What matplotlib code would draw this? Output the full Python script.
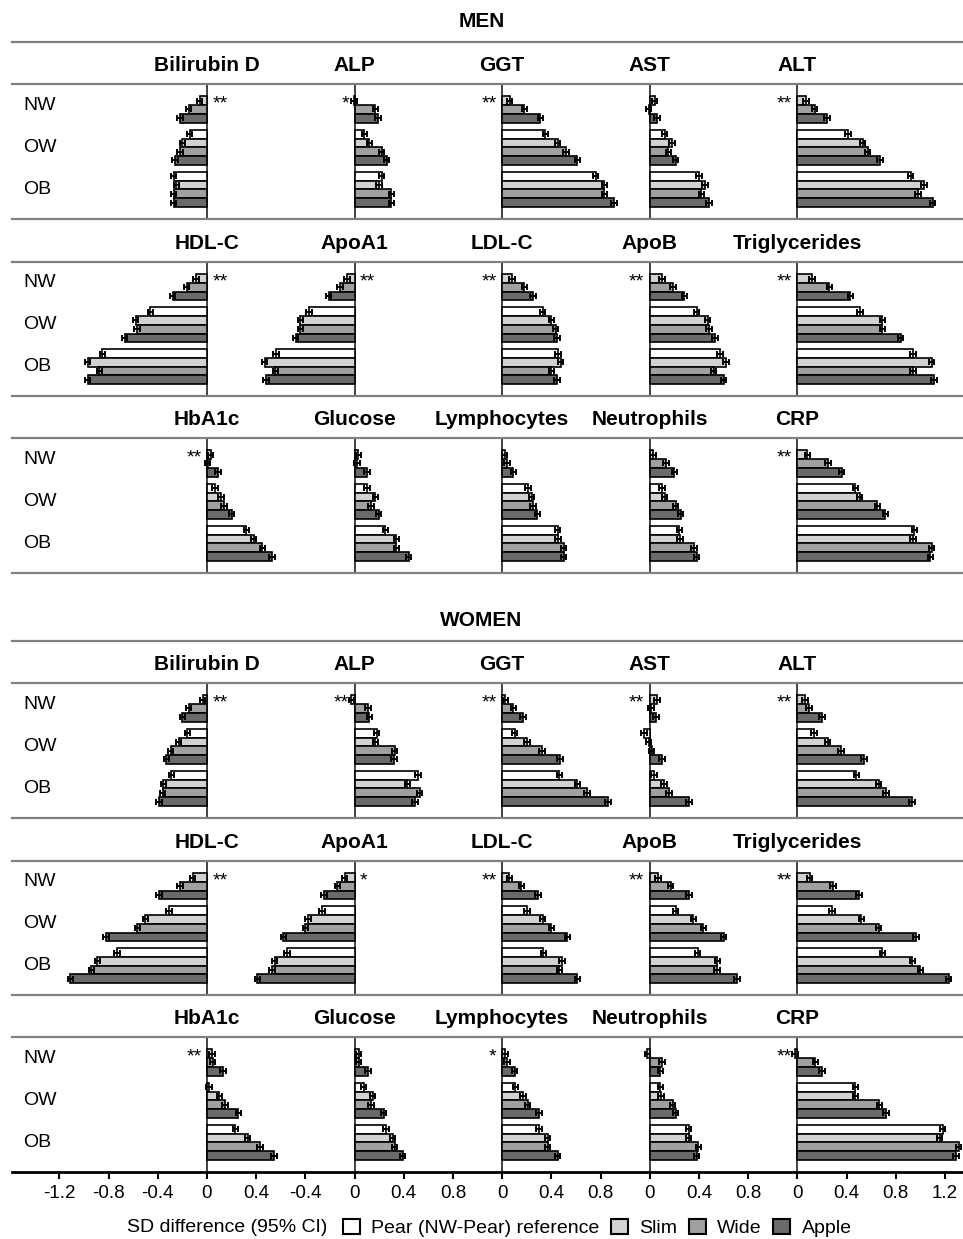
import numpy as np
import matplotlib
matplotlib.use('Agg')
import matplotlib.pyplot as plt
from matplotlib.patches import Patch
from matplotlib.lines import Line2D

markers = ['Bilirubin D', 'ALP', 'GGT', 'AST', 'ALT',
           'HDL-C', 'ApoA1', 'LDL-C', 'ApoB', 'Triglycerides',
           'HbA1c', 'Glucose', 'Lymphocytes', 'Neutrophils', 'CRP']
bmi_groups = ['NW', 'OW', 'OB']
shapes = ['Pear (NW-Pear) reference', 'Slim', 'Wide', 'Apple']
shape_colors = ['#ffffff', '#d2d2d2', '#a0a0a0', '#6a6a6a']

# SD difference vs NW-Pear; rows NW/OW/OB, columns Pear/Slim/Wide/Apple
# (None = the reference group itself)
men_bilirubin_d = [[None, -0.06, -0.15, -0.22], [-0.14, -0.20, -0.22, -0.26], [-0.27, -0.25, -0.27, -0.27]]
men_alp = [[None, -0.005, 0.17, 0.19], [0.08, 0.12, 0.22, 0.26], [0.22, 0.20, 0.30, 0.30]]
men_ggt = [[None, 0.06, 0.18, 0.31], [0.35, 0.45, 0.52, 0.61], [0.76, 0.83, 0.83, 0.91]]
men_ast = [[None, 0.04, -0.01, 0.06], [0.12, 0.18, 0.15, 0.21], [0.40, 0.45, 0.42, 0.48]]
men_alt = [[None, 0.07, 0.14, 0.24], [0.41, 0.53, 0.57, 0.67], [0.92, 1.03, 0.98, 1.10]]
men_hdl_c = [[None, -0.09, -0.165, -0.28], [-0.46, -0.58, -0.57, -0.67], [-0.85, -0.97, -0.875, -0.97]]
men_apoa1 = [[None, -0.06, -0.12, -0.21], [-0.37, -0.44, -0.44, -0.48], [-0.64, -0.73, -0.645, -0.72]]
men_ldl_c = [[None, 0.08, 0.18, 0.25], [0.33, 0.40, 0.435, 0.445], [0.455, 0.475, 0.40, 0.445]]
men_apob = [[None, 0.10, 0.19, 0.28], [0.38, 0.47, 0.48, 0.53], [0.57, 0.62, 0.52, 0.60]]
men_trig = [[None, 0.12, 0.26, 0.43], [0.51, 0.69, 0.69, 0.84], [0.94, 1.09, 0.94, 1.11]]
men_hba1c = [[None, 0.03, 0.005, 0.09], [0.065, 0.115, 0.14, 0.20], [0.32, 0.38, 0.45, 0.53]]
men_glucose = [[None, 0.03, 0.02, 0.10], [0.10, 0.17, 0.135, 0.195], [0.25, 0.34, 0.34, 0.44]]
men_lymph = [[None, 0.02, 0.04, 0.09], [0.21, 0.24, 0.25, 0.285], [0.45, 0.455, 0.50, 0.50]]
men_neutro = [[None, 0.025, 0.13, 0.20], [0.10, 0.12, 0.21, 0.25], [0.24, 0.245, 0.36, 0.38]]
men_crp = [[None, 0.08, 0.25, 0.36], [0.47, 0.505, 0.65, 0.715], [0.95, 0.94, 1.09, 1.08]]

women_bilirubin_d = [[None, -0.035, -0.15, -0.20], [-0.16, -0.23, -0.295, -0.33], [-0.29, -0.355, -0.36, -0.39]]
women_alp = [[None, -0.027, 0.11, 0.12], [0.18, 0.17, 0.325, 0.32], [0.515, 0.43, 0.53, 0.49]]
women_ggt = [[None, 0.025, 0.09, 0.17], [0.10, 0.20, 0.325, 0.47], [0.465, 0.61, 0.69, 0.86]]
women_ast = [[None, 0.057, 0.008, 0.05], [-0.046, -0.01, 0.016, 0.098], [0.035, 0.117, 0.157, 0.32]]
women_alt = [[None, 0.062, 0.095, 0.20], [0.135, 0.245, 0.355, 0.54], [0.48, 0.66, 0.72, 0.93]]
women_hdl_c = [[None, -0.117, -0.22, -0.39], [-0.31, -0.50, -0.565, -0.82], [-0.73, -0.89, -0.94, -1.11]]
women_apoa1 = [[None, -0.08, -0.14, -0.25], [-0.265, -0.38, -0.40, -0.58], [-0.55, -0.65, -0.67, -0.79]]
women_ldl_c = [[None, 0.057, 0.155, 0.29], [0.20, 0.33, 0.40, 0.53], [0.335, 0.485, 0.465, 0.61]]
women_apob = [[None, 0.065, 0.17, 0.32], [0.21, 0.355, 0.435, 0.60], [0.39, 0.55, 0.545, 0.71]]
women_trig = [[None, 0.10, 0.29, 0.50], [0.28, 0.52, 0.66, 0.965], [0.69, 0.935, 1.00, 1.23]]
women_hba1c = [[None, 0.04, 0.045, 0.13], [0.016, 0.10, 0.145, 0.255], [0.23, 0.33, 0.43, 0.545]]
women_glucose = [[None, 0.033, 0.033, 0.11], [0.073, 0.146, 0.133, 0.236], [0.255, 0.31, 0.325, 0.39]]
women_lymph = [[None, 0.024, 0.038, 0.10], [0.106, 0.168, 0.206, 0.30], [0.30, 0.37, 0.37, 0.45]]
women_neutro = [[None, -0.02, 0.10, 0.085], [0.085, 0.09, 0.185, 0.21], [0.315, 0.315, 0.395, 0.38]]
women_crp = [[None, -0.02, 0.145, 0.20], [0.47, 0.47, 0.665, 0.72], [1.18, 1.155, 1.31, 1.29]]

# half width of the 95% CI (they are all about the same size in the figure)
ci_half = 0.022

men_stars = ['**', '*', '**', '', '**', '**', '**', '**', '**', '**', '**', '', '', '', '**']
women_stars = ['**', '**', '**', '**', '**', '**', '*', '**', '**', '**', '**', '', '*', '', '**']

tick_pos = [-1.2, -0.8, -0.4, 0, 0.4, 0.8, 1.2, 1.6, 2.0, 2.4, 2.8, 3.2, 3.6, 4.0, 4.4, 4.8, 5.2, 5.6, 6.0]
tick_labels = ['-1.2', '-0.8', '-0.4', '0', '0.4', '-0.4', '0', '0.4', '0.8',
               '0', '0.4', '0.8', '0', '0.4', '0.8', '0', '0.4', '0.8', '1.2']

men_panels = [men_bilirubin_d, men_alp, men_ggt, men_ast, men_alt,
              men_hdl_c, men_apoa1, men_ldl_c, men_apob, men_trig,
              men_hba1c, men_glucose, men_lymph, men_neutro, men_crp]
women_panels = [women_bilirubin_d, women_alp, women_ggt, women_ast, women_alt,
                women_hdl_c, women_apoa1, women_ldl_c, women_apob, women_trig,
                women_hba1c, women_glucose, women_lymph, women_neutro, women_crp]

plt.rcParams['font.family'] = 'Liberation Sans'
W, H = 963, 1239
fig = plt.figure(figsize=(W / 100, H / 100), dpi=100)

col_offsets = [0, 1.2, 2.4, 3.6, 4.8]
xmin, xmax = -1.585, 6.146
bar_h = 0.208
line_grey = '#808080'


def draw_sex(title, panels, stars, strips, last):
    band_top = strips[0][0] - 42
    fig.text(0.5, 1 - (band_top - 15) / H, title, ha='center', va='baseline',
             fontsize=15, fontweight='bold')
    fig.add_artist(Line2D([12 / W, 1], [1 - band_top / H] * 2, color=line_grey, lw=1.6))
    for r, (top, bot) in enumerate(strips):
        ax = fig.add_axes([12 / W, 1 - bot / H, 951 / W, (bot - top) / H])
        ax.set_xlim(xmin, xmax)
        ax.set_ylim(2.70, -0.5)
        for s in ['left', 'right']:
            ax.spines[s].set_visible(False)
        for s in ['top', 'bottom']:
            ax.spines[s].set_color(line_grey)
            ax.spines[s].set_linewidth(1.6)
        ax.set_yticks([])
        for g, name in enumerate(bmi_groups):
            ax.text(11 / 951, g, name, transform=ax.get_yaxis_transform(),
                    ha='left', va='center', fontsize=14)
        for j in range(5):
            k = r * 5 + j
            off = col_offsets[j]
            vals = np.array(panels[k], dtype=float)
            ax.axvline(off, color='#333333', lw=1.3, zorder=1)
            for i in range(4):
                ys = np.arange(3) + (i - 1.5) * bar_h
                w = vals[:, i]
                m = ~np.isnan(w)
                ax.barh(ys[m], w[m], height=bar_h, left=off, color=shape_colors[i],
                        edgecolor='black', linewidth=1.2, zorder=2)
                ax.errorbar(off + w[m], ys[m], xerr=ci_half, fmt='none', ecolor='black',
                            elinewidth=1.4, capsize=2.4, capthick=1.4, zorder=3)
            ax.text(off, 1 + 13 / (bot - top), markers[k], transform=ax.get_xaxis_transform(),
                    ha='center', va='baseline', fontsize=15, fontweight='bold')
            if stars[k]:
                right = vals[2, 3] < 0
                ax.annotate(stars[k], xy=(off, 0.08), xytext=(4 if right else -4, 0),
                            textcoords='offset points', ha='left' if right else 'right',
                            va='baseline', fontsize=14)
        if last and r == 2:
            ax.spines['bottom'].set_color('black')
            ax.spines['bottom'].set_linewidth(2)
            ax.set_xticks(tick_pos)
            ax.set_xticklabels(tick_labels, fontsize=13.5)
            ax.tick_params(axis='x', length=5, width=1.5, pad=4)
        else:
            ax.set_xticks([])


draw_sex('MEN', men_panels, men_stars, [(84, 219), (262, 396), (438, 573)], False)
draw_sex('WOMEN', women_panels, women_stars, [(683, 818), (861, 995), (1037, 1172)], True)

fig.text(127 / W, 1 - 1228 / H, 'SD difference (95% CI)', ha='left', va='center', fontsize=14)
handles = [Patch(facecolor=c, edgecolor='black', linewidth=1.5) for c in shape_colors]
fig.legend(handles, shapes, loc='center left', bbox_to_anchor=(343 / W, 1 - 1228 / H),
           ncol=4, frameon=False, fontsize=14, handlelength=0.85, handleheight=0.85,
           handletextpad=0.6, columnspacing=0.6, borderpad=0, borderaxespad=0)

fig.savefig('out.png', dpi=100)
